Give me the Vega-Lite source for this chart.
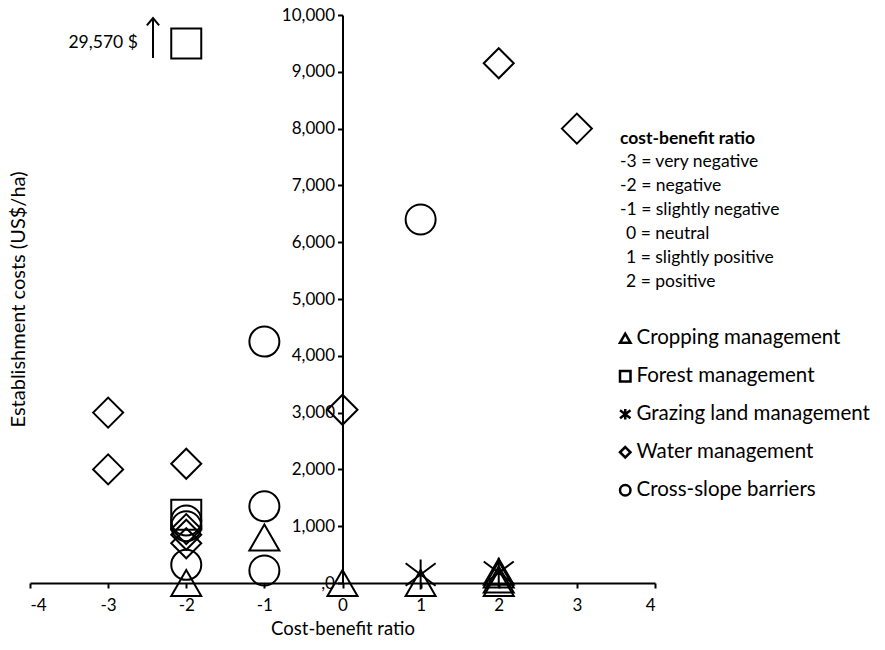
{
  "$schema": "https://vega.github.io/schema/vega-lite/v6.json",
  "autosize": "none",
  "width": 625,
  "height": 568,
  "padding": {"left": 30, "top": 15, "right": 230, "bottom": 67},
  "background": "white",
  "config": {
    "font": "Lato",
    "view": {"stroke": null},
    "axis": {"labelColor": "black", "titleColor": "black", "domainColor": "black", "tickColor": "black", "grid": false, "labelFontSize": 17, "titleFontSize": 18.5, "titleFontWeight": "normal", "domainWidth": 2, "tickWidth": 2, "tickSize": 5}
  },
  "datasets": {
    "points": [
      {"cbr": -2, "cost": 0, "type": "Cropping management"},
      {"cbr": -1, "cost": 800, "type": "Cropping management"},
      {"cbr": 0, "cost": 0, "type": "Cropping management"},
      {"cbr": 1, "cost": 0, "type": "Cropping management"},
      {"cbr": 2, "cost": 0, "type": "Cropping management"},
      {"cbr": 2, "cost": 60, "type": "Cropping management"},
      {"cbr": 2, "cost": 150, "type": "Cropping management"},
      {"cbr": 2, "cost": 200, "type": "Cropping management"},
      {"cbr": -2, "cost": 1200, "type": "Forest management"},
      {"cbr": -2, "cost": 9500, "type": "Forest management"},
      {"cbr": 1, "cost": 150, "type": "Grazing land management"},
      {"cbr": 2, "cost": 180, "type": "Grazing land management"},
      {"cbr": -3, "cost": 3000, "type": "Water management"},
      {"cbr": -3, "cost": 2000, "type": "Water management"},
      {"cbr": -2, "cost": 2100, "type": "Water management"},
      {"cbr": -2, "cost": 950, "type": "Water management"},
      {"cbr": -2, "cost": 850, "type": "Water management"},
      {"cbr": -2, "cost": 700, "type": "Water management"},
      {"cbr": 0, "cost": 3050, "type": "Water management"},
      {"cbr": 2, "cost": 9150, "type": "Water management"},
      {"cbr": 3, "cost": 8000, "type": "Water management"},
      {"cbr": -1, "cost": 4250, "type": "Cross-slope barriers"},
      {"cbr": 1, "cost": 6400, "type": "Cross-slope barriers"},
      {"cbr": -1, "cost": 1350, "type": "Cross-slope barriers"},
      {"cbr": -1, "cost": 220, "type": "Cross-slope barriers"},
      {"cbr": -2, "cost": 320, "type": "Cross-slope barriers"},
      {"cbr": -2, "cost": 1100, "type": "Cross-slope barriers"},
      {"cbr": -2, "cost": 1000, "type": "Cross-slope barriers"}
    ],
    "heading": [
      {"text": "cost-benefit ratio", "nx": 3.552, "ny": 7817}
    ],
    "notesNeg": [
      {"text": "-3 = very negative", "nx": 3.552, "ny": 7412},
      {"text": "-2 = negative", "nx": 3.552, "ny": 6989},
      {"text": "-1 = slightly negative", "nx": 3.552, "ny": 6567}
    ],
    "notesPos": [
      {"text": "0 = neutral", "nx": 3.552, "ny": 6144},
      {"text": "1 = slightly positive", "nx": 3.552, "ny": 5722},
      {"text": "2 = positive", "nx": 3.552, "ny": 5299}
    ],
    "arrow": [
      {"ax": -2.4256, "ay1": 9243, "ay2": 9947, "label": "29,570 $", "lx": -2.62, "ly": 9507}
    ]
  },
  "layer": [
    {
      "data": {"name": "points"},
      "mark": {"type": "point", "filled": false, "stroke": "black", "strokeWidth": 2, "opacity": 1, "size": 900},
      "encoding": {
        "x": {"field": "cbr", "type": "quantitative", "scale": {"domain": [-4, 4], "nice": false},
          "axis": {"values": [-4, -3, -2, -1, 0, 1, 2, 3, 4], "labelExpr": "'' + datum.value", "title": "Cost-benefit ratio", "labelPadding": 9, "titlePadding": 6}},
        "y": {"field": "cost", "type": "quantitative", "scale": {"domain": [0, 10000], "nice": false},
          "axis": {"values": [0, 1000, 2000, 3000, 4000, 5000, 6000, 7000, 8000, 9000, 10000], "format": ",d", "offset": -312.5, "labelPadding": 3,
            "labelExpr": "datum.value == 0 ? ',0\u2007\u2007' : datum.label",
            "title": "Establishment costs (US$/ha)", "titleFontSize": 20, "titleX": -324.5, "titleBaseline": "middle", "titleAngle": -90}},
        "shape": {"field": "type", "type": "nominal",
          "scale": {"domain": ["Cropping management", "Forest management", "Grazing land management", "Water management", "Cross-slope barriers"],
            "range": ["triangle-up", "square", "M-1,-0.75L1,0.75M1,-0.75L-1,0.75M0,-1L0,1", "diamond", "circle"]},
          "legend": {"title": null, "orient": "none", "legendX": 585, "legendY": 313, "labelFontSize": 20.5, "labelLimit": 400, "labelColor": "black", "symbolStrokeColor": "black", "symbolStrokeWidth": 2.5, "symbolSize": 110, "rowPadding": 17, "labelOffset": 1}}
      }
    },
    {
      "data": {"name": "heading"},
      "mark": {"type": "text", "align": "left", "baseline": "middle", "fontSize": 17.5, "fontWeight": "bold", "color": "black"},
      "encoding": {
        "x": {"field": "nx", "type": "quantitative"},
        "y": {"field": "ny", "type": "quantitative"},
        "text": {"field": "text"}
      }
    },
    {
      "data": {"name": "notesNeg"},
      "mark": {"type": "text", "align": "left", "baseline": "middle", "fontSize": 17.5, "color": "black"},
      "encoding": {
        "x": {"field": "nx", "type": "quantitative"},
        "y": {"field": "ny", "type": "quantitative"},
        "text": {"field": "text"}
      }
    },
    {
      "data": {"name": "notesPos"},
      "mark": {"type": "text", "align": "left", "baseline": "middle", "fontSize": 17.5, "color": "black", "dx": 6},
      "encoding": {
        "x": {"field": "nx", "type": "quantitative"},
        "y": {"field": "ny", "type": "quantitative"},
        "text": {"field": "text"}
      }
    },
    {
      "data": {"name": "arrow"},
      "mark": {"type": "rule", "color": "black", "strokeWidth": 2},
      "encoding": {
        "x": {"field": "ax", "type": "quantitative"},
        "y": {"field": "ay1", "type": "quantitative"},
        "y2": {"field": "ay2"}
      }
    },
    {
      "data": {"name": "arrow"},
      "mark": {"type": "point", "filled": false, "stroke": "black", "strokeWidth": 2, "opacity": 1, "size": 150, "shape": "M-1,1.2L0,0L1,1.2"},
      "encoding": {
        "x": {"field": "ax", "type": "quantitative"},
        "y": {"field": "ay2", "type": "quantitative"}
      }
    },
    {
      "data": {"name": "arrow"},
      "mark": {"type": "text", "align": "right", "baseline": "middle", "fontSize": 17.5, "color": "black"},
      "encoding": {
        "x": {"field": "lx", "type": "quantitative"},
        "y": {"field": "ly", "type": "quantitative"},
        "text": {"field": "label"}
      }
    }
  ]
}
